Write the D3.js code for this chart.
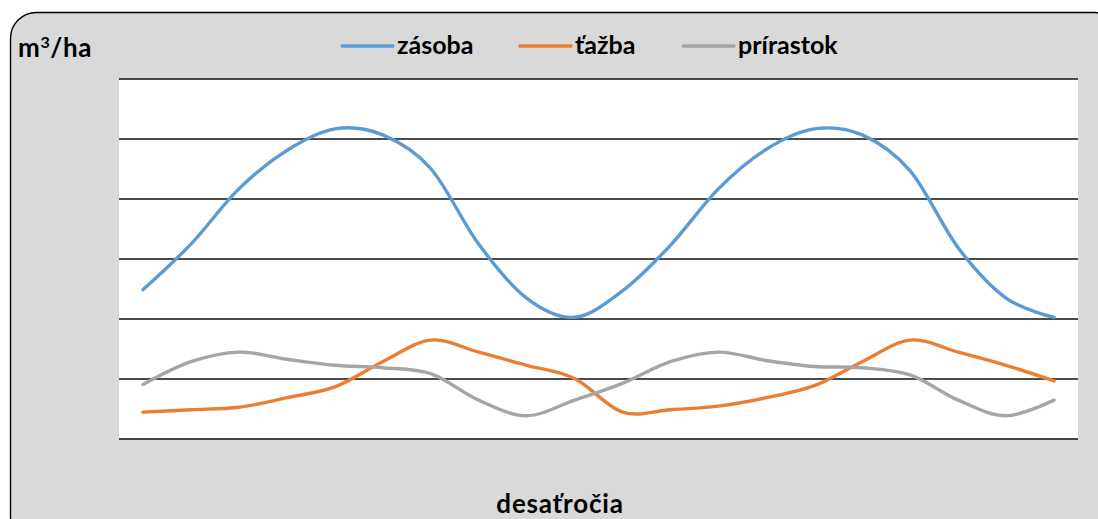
<!DOCTYPE html>
<html>
<head>
<meta charset="utf-8">
<script src="https://cdn.jsdelivr.net/npm/d3@7"></script>
<style>
  html, body { margin: 0; padding: 0; background: #ffffff; }
  svg { display: block; }
  text { font-family: "Lato", "Open Sans", sans-serif; font-weight: bold; fill: #000; }
</style>
</head>
<body>
<svg id="chart" width="1098" height="519"></svg>
<script>
// Decades along the horizontal axis (unlabelled on the chart)
const decades = d3.range(1, 21);

// Growing stock, felling and increment per decade (m³/ha)
const zasoba    = [124, 162, 208, 240, 258, 253, 225, 162, 117, 101, 123, 161, 208, 241, 258, 253, 223, 159, 117, 101];
const tazba     = [22, 24, 26, 34, 43, 64, 82, 72, 61, 50, 22, 24, 27, 34, 44, 64, 82, 72, 61, 48];
const prirastok = [45, 64, 72, 66, 61, 59, 54, 32, 19, 32, 46, 64, 72, 65, 60, 59, 53, 32, 19, 32];

const yTicks = [0, 50, 100, 150, 200, 250, 300];

const seriesNames  = ["zásoba", "ťažba", "prírastok"];
const seriesColors = ["#5b9bd5", "#ed7d31", "#a5a5a5"];
const seriesData   = [zasoba, tazba, prirastok];

const svg = d3.select("#chart");

// Chart frame with rounded corners
svg.append("rect")
  .attr("x", 10.5).attr("y", 12.5)
  .attr("width", 1110).attr("height", 530)
  .attr("rx", 26).attr("ry", 26)
  .attr("fill", "#d9d9d9")
  .attr("stroke", "#000").attr("stroke-width", 1.4);

const plot = { left: 119, right: 1078, top: 78.5, bottom: 438.5 };

// Plot area background
svg.append("rect")
  .attr("x", plot.left).attr("y", plot.top)
  .attr("width", plot.right - plot.left).attr("height", plot.bottom - plot.top)
  .attr("fill", "#ffffff");

const x = d3.scaleBand()
  .domain(decades)
  .range([plot.left, plot.right]);

const y = d3.scaleLinear()
  .domain([0, 300])
  .range([plot.bottom, plot.top]);

// Horizontal gridlines
const yAxis = d3.axisLeft(y).tickValues(yTicks)
  .tickSize(-(plot.right - plot.left)).tickFormat("");
const gy = svg.append("g")
  .attr("transform", `translate(${plot.left},0)`)
  .call(yAxis);
gy.select(".domain").remove();
gy.selectAll(".tick line").attr("stroke", "#111").attr("stroke-width", 1.3);

// Smoothed series lines
const line = d3.line()
  .x((d, i) => x(decades[i]) + x.bandwidth() / 2)
  .y(d => y(d))
  .curve(d3.curveCatmullRom.alpha(0));

seriesData.forEach((vals, k) => {
  svg.append("path")
    .datum(vals)
    .attr("d", line)
    .attr("fill", "none")
    .attr("stroke", seriesColors[k])
    .attr("stroke-width", 3.4)
    .attr("stroke-linecap", "round")
    .attr("stroke-linejoin", "round");
});

// Axis titles
svg.append("text")
  .attr("x", 18).attr("y", 57)
  .attr("font-size", 26)
  .attr("letter-spacing", 0.6)
  .html('m<tspan dy="-9" font-size="16">3</tspan><tspan dy="9">/ha</tspan>');

svg.append("text")
  .attr("x", 560).attr("y", 513)
  .attr("text-anchor", "middle")
  .attr("font-size", 26)
  .attr("letter-spacing", 0.8)
  .text("desaťročia");

// Legend
const legendX = [342, 520, 683];
seriesNames.forEach((name, k) => {
  const g = svg.append("g").attr("transform", `translate(${legendX[k]},46)`);
  g.append("line")
    .attr("x1", 0).attr("x2", 51).attr("y1", 0).attr("y2", 0)
    .attr("stroke", seriesColors[k]).attr("stroke-width", 3.4)
    .attr("stroke-linecap", "round");
  g.append("text")
    .attr("x", 55).attr("y", 8)
    .attr("font-size", 25)
    .text(name);
});
</script>
</body>
</html>
